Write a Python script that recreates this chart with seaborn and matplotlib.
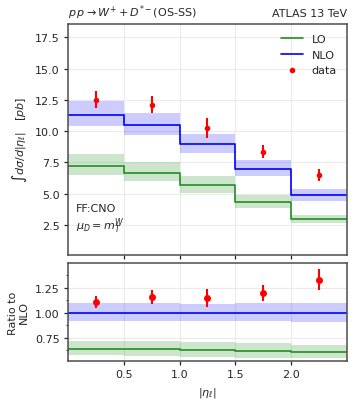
import numpy as np
import pandas as pd
import matplotlib
matplotlib.use("Agg")
import matplotlib.pyplot as plt
import seaborn as sns
from matplotlib.ticker import AutoMinorLocator

edges = [0.0, 0.5, 1.0, 1.5, 2.0, 2.5]
nlo = [11.31, 10.48, 8.98, 6.98, 4.87]
nlo_lo = [10.43, 9.65, 8.23, 6.42, 4.44]
nlo_hi = [12.39, 11.45, 9.78, 7.66, 5.35]
lo = [7.23, 6.66, 5.67, 4.32, 2.98]
lo_lo = [6.53, 5.99, 5.05, 3.87, 2.66]
lo_hi = [8.14, 7.52, 6.40, 4.89, 3.33]
data_x = [0.25, 0.75, 1.25, 1.75, 2.25]
data = [12.52, 12.12, 10.27, 8.35, 6.48]
data_err = [0.65, 0.70, 0.79, 0.54, 0.50]
yticks_top = [2.5, 5.0, 7.5, 10.0, 12.5, 15.0, 17.5]
yticks_ratio = [0.75, 1.0, 1.25]
xticks = [0.5, 1.0, 1.5, 2.0]

FS = 8
sns.set_theme(style="whitegrid", rc={
    "axes.edgecolor": ".3", "axes.linewidth": 1.1,
    "grid.color": ".92", "grid.linewidth": 0.8,
    "xtick.bottom": True, "ytick.left": True,
    "xtick.color": ".15", "ytick.color": ".15",
    "xtick.major.size": 3.0, "ytick.major.size": 3.0,
    "ytick.minor.size": 1.8, "ytick.minor.width": 0.7,
    "xtick.major.width": 0.9, "ytick.major.width": 0.9,
    "xtick.major.pad": 3, "ytick.major.pad": 3,
    "font.size": FS, "axes.labelsize": FS, "xtick.labelsize": FS,
    "ytick.labelsize": FS, "legend.fontsize": FS, "axes.titlesize": FS,
})
plt.rcParams['font.family'] = ['DejaVu Sans']

fig = plt.figure(figsize=(3.54, 4.06), dpi=100)
ax = fig.add_axes([0.192, 0.3695, 0.788, 0.569])
axr = fig.add_axes([0.192, 0.1084, 0.788, 0.2414], sharex=ax)

def ext(v):
    return list(v) + [v[-1]]

green = "#1f8f1f"
blue = "#0000ff"

df = pd.DataFrame({"x": edges * 2,
                   "y": ext(lo) + ext(nlo),
                   "model": ["LO"] * 6 + ["NLO"] * 6})
sns.lineplot(data=df, x="x", y="y", hue="model", palette={"LO": green, "NLO": blue},
             drawstyle="steps-post", ax=ax, linewidth=1.2, estimator=None, sort=False)
ax.fill_between(edges, ext(lo_lo), ext(lo_hi), step="post", color="green", alpha=0.2, lw=0)
ax.fill_between(edges, ext(nlo_lo), ext(nlo_hi), step="post", color="blue", alpha=0.2, lw=0)
ax.errorbar(data_x, data, yerr=data_err, fmt="none", ecolor="red", elinewidth=1.5, zorder=5)
sns.scatterplot(x=data_x, y=data, color="red", s=16, linewidth=0, ax=ax, label="data", zorder=6)

ax.set_xlim(0, 2.5)
ax.set_ylim(0.1, 18.56)
ax.set_yticks(yticks_top)
ax.tick_params(axis="x", labelbottom=False)
ax.set_xlabel("")
ax.set_ylabel(r"$\int d\sigma/d|\eta_\ell|\quad [pb]$")
ax.set_title(r"$p\,p \rightarrow W^{+} + D^{*-}$(OS-SS)", loc="left", fontsize=FS)
ax.set_title("ATLAS 13 TeV", loc="right", fontsize=FS)
ax.text(0.03, 0.225, "FF:CNO\n" + r"$\mu_D = m_T^W$", transform=ax.transAxes,
        va="top", ha="left", fontsize=FS)
h, l = ax.get_legend_handles_labels()
ax.legend(h, l, loc="upper right", frameon=False, handlelength=2.0)

nlo_a = np.array(nlo)
r_lo = np.array(lo) / nlo_a
r_nlo = nlo_a / nlo_a
dfr = pd.DataFrame({"x": edges * 2,
                    "y": ext(list(r_lo)) + ext(list(r_nlo)),
                    "model": ["LO"] * 6 + ["NLO"] * 6})
sns.lineplot(data=dfr, x="x", y="y", hue="model", palette={"LO": green, "NLO": blue},
             drawstyle="steps-post", ax=axr, linewidth=1.2, estimator=None, sort=False,
             legend=False)
axr.fill_between(edges, ext(list(np.array(lo_lo) / nlo_a)), ext(list(np.array(lo_hi) / nlo_a)),
                 step="post", color="green", alpha=0.2, lw=0)
axr.fill_between(edges, ext(list(np.array(nlo_lo) / nlo_a)), ext(list(np.array(nlo_hi) / nlo_a)),
                 step="post", color="blue", alpha=0.2, lw=0)
axr.errorbar(data_x, np.array(data) / nlo_a, yerr=np.array(data_err) / nlo_a, fmt="o",
             color="red", ms=4, elinewidth=1.5, zorder=5)
axr.set_ylim(0.52, 1.495)
axr.set_yticks(yticks_ratio)
axr.yaxis.set_minor_locator(AutoMinorLocator(2))
axr.tick_params(axis="y", which="minor", left=True)
axr.set_xticks(xticks)
axr.set_xlim(0, 2.5)
axr.set_xlabel(r"$|\eta_\ell|$")
axr.set_ylabel("Ratio to\nNLO")

fig.savefig("out.png", dpi=100)
